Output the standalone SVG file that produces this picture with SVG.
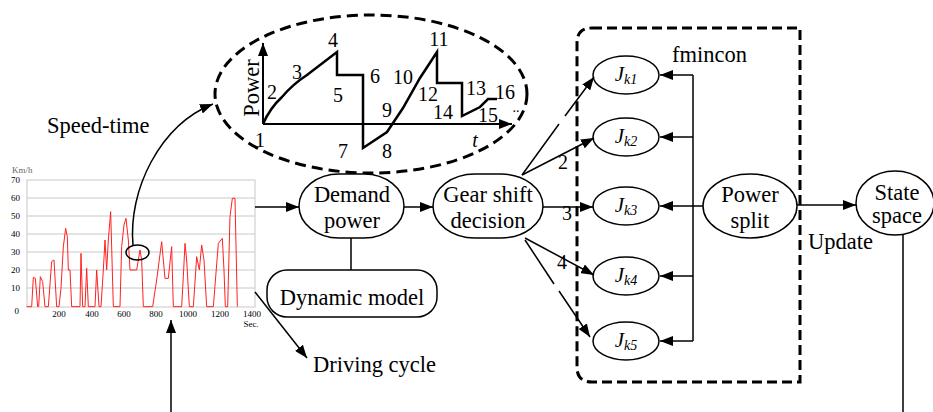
<svg xmlns="http://www.w3.org/2000/svg" width="933" height="412" viewBox="0 0 933 412">
<defs>
<marker id="ah" markerUnits="userSpaceOnUse" markerWidth="14" markerHeight="10" refX="13" refY="5" orient="auto">
<path d="M0,0 L13,5 L0,10 Z" fill="#000"/>
</marker>
<style>
text{font-family:"Liberation Serif","Times New Roman",serif;fill:#000}
.lbl{font-size:22.5px}
.num{font-size:20px}
.ax{font-size:9px;fill:#666}
.shape{fill:#fff;stroke:#000;stroke-width:1.5}
.conn{fill:none;stroke:#000;stroke-width:1.5}
.grid{stroke:#c8c8c8;stroke-width:1;fill:none}
.ji{font-size:21px;font-style:italic}
.js{font-size:14px;font-style:italic}
</style>
</defs>
<rect width="933" height="412" fill="#fff"/>

<!-- speed-time chart -->
<g id="speed-chart">
<rect x="27" y="180" width="228" height="127" class="grid"/>
<path class="grid" d="M27,198H255M27,216H255M27,234H255M27,252H255M27,270H255M27,288H255"/>
<text class="ax" x="12" y="173">Km/h</text>
<g class="ax" text-anchor="end">
<text x="20" y="183">70</text><text x="20" y="201">60</text><text x="20" y="219">50</text><text x="20" y="237">40</text><text x="20" y="255">30</text><text x="20" y="273">20</text><text x="20" y="291">10</text><text x="19" y="314">0</text>
</g>
<g class="ax" text-anchor="middle">
<text x="59" y="317">200</text><text x="92" y="317">400</text><text x="124" y="317">600</text><text x="156" y="317">800</text><text x="188" y="317">1000</text><text x="220" y="317">1200</text><text x="252" y="317">1400</text><text x="251" y="327">Sec.</text>
</g>
<polyline transform="translate(0,160) scale(0.33333)" fill="none" stroke="#ff2020" stroke-width="3" points="80,440 95,440 100,352 106,355 113,440 116,440 121,350 128,365 135,440 145,440 155,305 162,300 170,440 177,440 183,385 190,260 197,205 202,230 205,330 210,330 215,440 240,440 243,280 248,440 255,440 260,325 265,440 285,440 290,330 297,440 303,440 310,330 315,240 320,330 325,240 332,155 340,440 360,440 365,260 372,195 378,175 385,240 390,330 410,330 420,270 425,300 430,440 458,440 470,360 485,245 495,355 505,355 515,260 520,440 545,440 550,350 555,250 560,300 568,440 580,440 590,290 598,330 605,255 612,300 620,440 640,440 655,250 667,235 672,330 676,440 683,440 690,170 697,115 705,115 712,440"/>
<ellipse cx="137.5" cy="252.5" rx="11.5" ry="7.5" fill="none" stroke="#000" stroke-width="1.5"/>
</g>

<text id="speed-time-label" class="lbl" x="47" y="133">Speed-time</text>

<!-- power-time zoom ellipse -->
<g id="power-zoom">
<ellipse cx="371" cy="94" rx="156" ry="79" fill="none" stroke="#000" stroke-width="3" stroke-dasharray="11 6"/>
<line x1="263" y1="124" x2="263" y2="43" stroke="#000" stroke-width="2" marker-end="url(#ah)"/>
<line x1="263" y1="124" x2="512" y2="124" stroke="#000" stroke-width="2" marker-end="url(#ah)"/>
<path d="M263,124 Q270,108 282,97 Q293,84 307,75 L337,52 L337,75 L363,75 L363,148 L387,132 L403,108 L420,78 L437,52 L437,83 L462,83 L462,116 L480,107 L488,99 L497,99" fill="none" stroke="#000" stroke-width="2.5"/>
<text class="lbl" transform="translate(259,88) rotate(-90)" text-anchor="middle">Power</text>
<g class="num" text-anchor="middle">
<text x="260" y="147">1</text>
<text x="272" y="99">2</text>
<text x="297" y="79">3</text>
<text x="333" y="47">4</text>
<text x="338" y="102">5</text>
<text x="375" y="83">6</text>
<text x="343" y="158">7</text>
<text x="387" y="158">8</text>
<text x="387" y="117">9</text>
<text x="403" y="84">10</text>
<text x="439" y="46">11</text>
<text x="428" y="101">12</text>
<text x="476" y="95">13</text>
<text x="443" y="119">14</text>
<text x="488" y="122">15</text>
<text x="505" y="99">16</text>
</g>
<text x="516" y="112" font-size="14" text-anchor="middle">..</text>
<text class="num" x="475" y="147" font-style="italic" text-anchor="middle">t</text>
</g>

<!-- nodes -->
<g id="demand-power">
<rect class="shape" x="299" y="174" width="105" height="64" rx="40" ry="32"/>
<text class="lbl" x="352" y="202" text-anchor="middle">Demand</text>
<text class="lbl" x="352" y="228" text-anchor="middle">power</text>
</g>
<g id="dynamic-model">
<rect class="shape" x="267" y="270" width="170" height="47" rx="20" ry="20"/>
<text class="lbl" x="352" y="305" text-anchor="middle">Dynamic model</text>
</g>
<g id="gear-shift">
<rect class="shape" x="433" y="174" width="110" height="64" rx="42" ry="32"/>
<text class="lbl" x="488" y="202" text-anchor="middle">Gear shift</text>
<text class="lbl" x="488" y="228" text-anchor="middle">decision</text>
</g>
<text id="driving-cycle" class="lbl" x="313" y="372">Driving cycle</text>

<g id="optimizer-box">
<path d="M592,28 L800,28 L800,382 L592,382 Q577,382 577,367 L577,43 Q577,28 592,28 Z" fill="none" stroke="#000" stroke-width="3" stroke-dasharray="10 5"/>
<text class="lbl" x="672" y="62">fmincon</text>
</g>

<g id="jk1"><ellipse class="shape" cx="626" cy="75" rx="33" ry="19"/><text x="626" y="81" text-anchor="middle"><tspan class="ji">J</tspan><tspan class="js" dy="3">k1</tspan></text></g>
<g id="jk2"><ellipse class="shape" cx="626" cy="137" rx="33" ry="19"/><text x="626" y="143" text-anchor="middle"><tspan class="ji">J</tspan><tspan class="js" dy="3">k2</tspan></text></g>
<g id="jk3"><ellipse class="shape" cx="626" cy="206" rx="33" ry="19"/><text x="626" y="212" text-anchor="middle"><tspan class="ji">J</tspan><tspan class="js" dy="3">k3</tspan></text></g>
<g id="jk4"><ellipse class="shape" cx="626" cy="276" rx="33" ry="19"/><text x="626" y="282" text-anchor="middle"><tspan class="ji">J</tspan><tspan class="js" dy="3">k4</tspan></text></g>
<g id="jk5"><ellipse class="shape" cx="626" cy="341" rx="33" ry="19"/><text x="626" y="347" text-anchor="middle"><tspan class="ji">J</tspan><tspan class="js" dy="3">k5</tspan></text></g>

<g id="power-split">
<ellipse class="shape" cx="750" cy="206" rx="47" ry="32"/>
<text class="lbl" x="750" y="202" text-anchor="middle">Power</text>
<text class="lbl" x="750" y="228" text-anchor="middle">split</text>
</g>
<g id="state-space">
<ellipse class="shape" cx="895" cy="203" rx="39" ry="32"/>
<text class="lbl" x="897" y="200" text-anchor="middle">State</text>
<text class="lbl" x="897" y="223" text-anchor="middle">space</text>
</g>

<!-- connectors -->
<g id="connectors" class="conn">
<path d="M133,245 C128,190 160,125 213,104" marker-end="url(#ah)"/>
<path d="M255,207 L299,207" marker-end="url(#ah)"/>
<path d="M404,207 L433,207" marker-end="url(#ah)"/>
<path d="M351,238 L351,270"/>
<path d="M255,292 L307,358" marker-end="url(#ah)"/>
<path d="M171,412 L171,320" marker-end="url(#ah)"/>
<path d="M522,175 L559,124 M565,116 L594,77" marker-end="url(#ah)"/>
<path d="M522,175 L594,138" marker-end="url(#ah)"/>
<path d="M543,207 L593,207" marker-end="url(#ah)"/>
<path d="M525,238 L594,275" marker-end="url(#ah)"/>
<path d="M525,240 L554,284 M559,291 L590,337" marker-end="url(#ah)"/>
<path d="M693,75 L693,341 M703,206 L693,206"/>
<path d="M693,75 L660,75" marker-end="url(#ah)"/>
<path d="M693,137 L660,137" marker-end="url(#ah)"/>
<path d="M693,206 L660,206" marker-end="url(#ah)"/>
<path d="M693,276 L660,276" marker-end="url(#ah)"/>
<path d="M693,341 L660,341" marker-end="url(#ah)"/>
<path d="M797,205 L856,205" marker-end="url(#ah)"/>
<path d="M903,235 L903,412"/>
</g>
<g id="connector-labels">
<text class="num" x="563" y="169" text-anchor="middle">2</text>
<text class="num" x="567" y="220" text-anchor="middle">3</text>
<text class="num" x="562" y="269" text-anchor="middle">4</text>
<text class="lbl" x="808" y="249">Update</text>
</g>
</svg>
